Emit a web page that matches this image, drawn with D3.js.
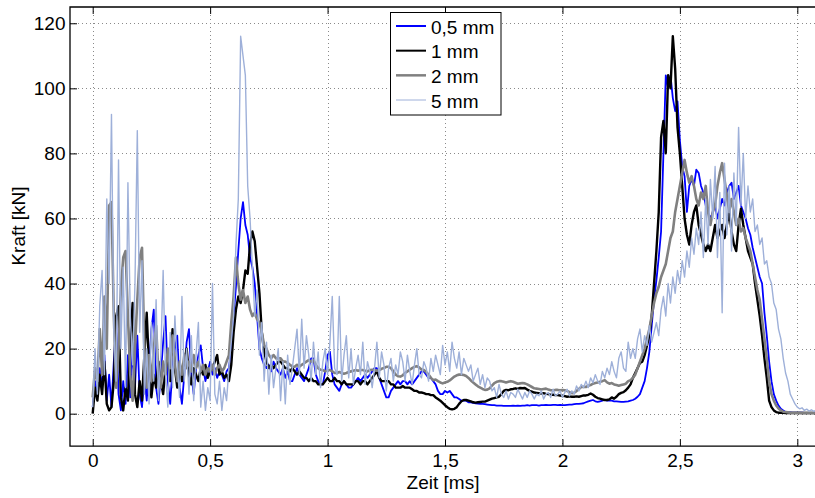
<!DOCTYPE html>
<html><head><meta charset="utf-8">
<script src="https://cdn.jsdelivr.net/npm/d3@7"></script>
<style>body{margin:0;background:#fff}</style>
</head><body>
<svg id="chart" width="815" height="498"></svg>
<script>
const seriesNames = ["0,5 mm", "1 mm", "2 mm", "5 mm"];
const xTicks = [0, 0.5, 1, 1.5, 2, 2.5, 3];
const xTickLabels = ["0", "0,5", "1", "1,5", "2", "2,5", "3"];
const yTicks = [0, 20, 40, 60, 80, 100, 120];
const yTickLabels = ["0", "20", "40", "60", "80", "100", "120"];
const sampleStart = 0;     // ms
const sampleStep = 0.01;   // ms

const blue05 = [
2,10,6,14,8,18,4,12,2,16,
28,6,1,10,3,18,5,20,8,24,
6,2,12,4,14,26,32,8,3,12,
22,30,10,3,14,20,24,8,3,12,
22,26,12,6,14,18,21,14,10,13,
16,12,14,11,13,12,10,13,14,20,
30,39,50,60,65,58,55,48,45,40,
30,20,17,15,14,15,13,16,14,13,
12,14,11,13,10,10,12,14,12,11,
10,12,14,17,17,12,10,9,9,13,
18,19,12,9,8,7,9,10,9,8,
8,9,10,11,10,11,12,11,12,13,
14,14,11,9,7,5,5,7,8,9,
10,9,10,10,9,10,9,10,11,12,
13,13,12,11,11,10,9,7,6,6,
7,6.5,7,6,5,5,4.5,4,4,4,
3.5,3.5,3.3,3.2,3.1,3,3,2.9,2.8,2.7,
2.6,2.6,2.5,2.5,2.5,2.4,2.4,2.4,2.4,2.5,
2.4,2.5,2.4,2.5,2.5,2.6,2.5,2.6,2.6,2.6,
2.5,2.6,2.6,2.7,2.6,2.6,2.7,2.7,2.6,2.7,
2.6,2.6,2.7,2.8,2.8,2.9,3,3,3.1,3.2,
3.5,3.8,4,4.2,3.8,3.6,3.8,4,4.2,4,
4,4,3.8,3.8,3.7,3.6,3.6,3.7,3.8,4,
4.2,4.6,5.2,6,8,10,14,19,27,35,
41,48,56,80,104,100,104,97,93,96,
84,76,73,62,70,72,70,75,74,70,
68,64,62,60,62,64,60,63,66,64,
68,70,71,66,68,70,64,62,60,57,
55,51,48,45,42,40,31,24,16,10,
6,4,2.5,1.5,1,0.5,0.4,0.4,0.3,0.3,
0.3,0.3,0.3,0.2,0.2,0.2,0.2,0.2,0.2,0.2,
0.2];

const black1 = [
0,8,4,12,6,16,3,1,2,10,
30,33,5,1,8,4,22,34,6,2,
10,4,18,31,14,5,12,8,16,10,
6,14,18,10,26,14,8,13,10,16,
20,12,9,14,12,10,14,12,15,11,
13,14,16,18,12,13,11,12,10,15,
25,32,36,34,38,44,43,52,56,53,
45,37,25,19,16,14,15,14,15,16,
16,15,14,14,13,14,13,12,13,12,
11,11,10,11,10,10,9,9,9,10,
11,10,10,11,10,10,9,10,9,9,
9,9,10,10,9,10,10,9,10,11,
12,13,11,10,10,10,10,9,9,8,
8,8,8.5,8,8,8,7.5,7,7,6.5,
6.5,6.3,6,6,5.7,5.7,5,4.5,4,3.3,
2.6,2,1.5,1.3,1.5,2,3,3.8,4.2,4.2,
4,3.8,3.5,3.4,3.5,3.6,3.7,3.7,4,4.3,
4.6,4.8,5,5.2,6,7,7.3,7.2,7.5,7.6,
7.8,7.6,7.9,7.8,7.9,7.4,7,6.8,6.5,6.4,
6.3,6.2,6.3,6.1,6,5.8,5.8,5.7,5.7,5.6,
5.5,5.4,5.2,5.3,5.2,5.2,5.3,5.2,5.4,5.6,
5.6,5.8,6.2,5.8,5.2,4.8,4.6,4.4,4.2,4.2,
4.4,5,4.6,5.2,6,6.4,6.6,7.2,8,9,
11,12.5,14,15.6,16,18,21,24,30,40,
50,62,85,90,80,104,100,116,106,88,
80,70,60,55,52,58,62,64,58,55,
52,50,52,50,54,58,54,56,58,54,
58,62,56,52,50,58,63,58,54,50,
48,46,40,35,30,24,17,11,4,2,
1,0.5,0.3,0.3,0.3,0.2,0.2,0.2,0.2,0.2,
0.2,0.2,0.2,0.2,0.2,0.2,0.2,0.2,0.2,0.2,
0.2];

const gray2 = [
5,14,10,26,12,36,20,64,65,30,
8,20,38,48,50,30,12,4,20,35,
48,51,20,8,18,10,20,27,12,8,
16,12,20,14,24,15,10,16,12,18,
14,16,13,18,14,16,13,15,12,14,
13,15,12,14,15,13,14,16,18,28,
36,48,40,35,38,34,36,32,30,31,
29,28,25,21,20,18,17,18,17,17,
17,16,16,15.6,15,14.5,14.4,15,14.4,15,
15.5,16,16.5,16,16.5,15,14,13.5,13.4,13,
13.4,13.4,13,12.5,12.5,12.8,12.5,12.3,12.5,12.8,
13,13.2,13.4,13.2,13.4,13.4,13.2,13,13.4,13.5,
13.4,13.2,13.4,13.8,14,14.4,14.4,14,13,12,
11.5,11.4,11.8,12.5,13,13.5,14,14.4,14.6,14.2,
13.6,13.4,12.8,12,11,10.3,10.5,10,9.6,9.3,
9.6,9.8,10.2,10.8,11.4,11.8,12,12,11.9,11.6,
11,10.2,9.6,9,8.4,8,7.6,7.3,7.4,7.8,
8.6,9.4,9.8,10,10,9.8,9.6,9.8,10,9.8,
9.5,9.2,9.3,9.4,9.3,9,8.6,8.2,7.8,7.7,
7.6,7.4,7.6,7.7,7.4,7.2,7.2,7.3,7.3,7.2,
7.3,7.2,7,6.6,6.3,6.4,7,7.6,8.2,8.3,
8.2,8.6,8.8,9.2,9.4,9.6,9.8,10,10.3,9.6,
9.2,9.4,9,8.8,8.6,8.8,9,9.2,10,10.3,
11,12,14,16,18,20,23,26,30,34,
37,39,42,44,46,50,54,56,62,66,
70,74,78,74,71,73,70,66,64,68,
66,70,62,58,62,64,70,74,77,72,
67,62,66,62,58,60,56,57,54,52,
50,46,42,38,35,29,23,17,10,6,
4,2.5,1.6,1,0.6,0.5,0.4,0.3,0.3,0.3,
0.3,0.3,0.2,0.2,0.2,0.2,0.2,0.2,0.2,0.2,
0.2];

const light5 = [
2,20,6,33,44,12,66,40,92,25,
10,78,20,45,8,71,30,15,40,87,
25,47,6,20,3,28,10,35,4,18,
44,12,2,25,8,30,15,5,36,10,
20,6,24,4,18,28,2,10,1,8,
4,40,6,3,10,1,8,4,14,22,
30,52,66,116,110,104,70,60,45,30,
38,18,28,10,22,6,18,8,14,20,
4,16,3,18,9,14,20,26,12,29,
14,24,18,10,22,12,19,8,16,20,
12,22,36,14,12,36,10,18,24,11,
20,9,14,18,12,22,9,16,13,8,
14,22,11,19,15,7,14,17,10,15,
12,19,16,10,18,13,9,15,20,12,
11,16,14,10,17,13,18,15,12,21,
15,19,13,22,17,14,19,12,17,15,
13,15,10,12,14,9,12,8,11,10,
7,8,5,9,6,5,7,4.5,6.5,6,
5,7.5,6,4.5,6.5,5,7,6,4.5,6,
5.5,7,4.5,6,6.5,5,7.5,5.5,6,7,
5,6.5,7.5,5.5,7,6,8.5,7,9,8,
10,8,11,9.5,12,10,9,13,11,14,
12,16,13,11,17,19,14,13,22,17,
20,17,23,26,19,24,21,27,22,25,
28,24,32,36,30,40,34,42,37,44,
40,47,42,50,45,54,49,57,52,62,
48,66,52,72,60,76,48,68,31,77,
55,70,50,74,58,88,64,80,60,70,
62,66,56,58,52,54,46,47,42,40,
34,32,26,23,17,12.5,10,6,4.5,3,
2,1.5,1.8,1,1.4,0.8,1.2,0.7,1,0.6,
0.8];

const seriesValues = [blue05, black1, gray2, light5];
const seriesColors = ["#0000ff", "#000000", "#808080", "#9eb0d9"];
const seriesWidths = [1.8, 2.4, 2.6, 1.4];
const legendWidths = [2, 2, 2.5, 1];

const svg = d3.select("#chart");
const font = "'Liberation Sans', Arial, Helvetica, sans-serif";
const x = d3.scaleLinear().domain([-0.0966, 3.1]).range([70, 820.8]);
const y = d3.scaleLinear().domain([-10, 125]).range([446.2, 7]);
const [x0, x1] = x.range();
const [yb, yt] = y.range();

// grid
const grid = svg.append("g").attr("stroke", "#8a8a8a").attr("stroke-width", 1)
  .attr("stroke-dasharray", "1,3").attr("shape-rendering", "crispEdges");
grid.selectAll("line.v").data(xTicks).join("line").attr("class", "v")
  .attr("x1", d => Math.round(x(d)) + 0.5).attr("x2", d => Math.round(x(d)) + 0.5)
  .attr("y1", yt).attr("y2", yb);
grid.selectAll("line.h").data(yTicks).join("line").attr("class", "h")
  .attr("y1", d => Math.round(y(d)) + 0.5).attr("y2", d => Math.round(y(d)) + 0.5)
  .attr("x1", x0).attr("x2", x1);

// lines
svg.append("clipPath").attr("id", "clip").append("rect")
  .attr("x", x0).attr("y", yt).attr("width", x1 - x0).attr("height", yb - yt);
const line = d3.line()
  .x((d, i) => x(sampleStart + i * sampleStep))
  .y(d => y(d));
const lines = svg.append("g").attr("clip-path", "url(#clip)");
seriesValues.forEach((vals, k) => {
  lines.append("path").datum(vals)
    .attr("fill", "none").attr("stroke", seriesColors[k])
    .attr("stroke-width", seriesWidths[k]).attr("stroke-linejoin", "round")
    .attr("d", line);
});

// axes
const axisB = svg.append("g").attr("transform", `translate(0,${yb})`)
  .call(d3.axisBottom(x).tickValues(xTicks).tickSize(-7).tickPadding(7.5)
    .tickFormat((d, i) => xTickLabels[i]));
const axisT = svg.append("g").attr("transform", `translate(0,${yt})`)
  .call(d3.axisTop(x).tickValues(xTicks).tickSize(-7).tickFormat(""));
const axisL = svg.append("g").attr("transform", `translate(${x0},0)`)
  .call(d3.axisLeft(y).tickValues(yTicks).tickSize(-7).tickPadding(4.5)
    .tickFormat((d, i) => yTickLabels[i]));
[axisB, axisT, axisL].forEach(g => {
  g.select(".domain").remove();
  g.selectAll(".tick line").attr("stroke", "#000").attr("stroke-width", 1);
  g.selectAll("text").attr("font-family", font).attr("font-size", 19).attr("fill", "#000");
});

// frame
svg.append("path")
  .attr("d", `M${x1},${yt}H${x0}V${yb}H${x1}`)
  .attr("fill", "none").attr("stroke", "#000").attr("stroke-width", 1.3);

// axis titles
svg.append("text").attr("x", 443).attr("y", 489).attr("text-anchor", "middle")
  .attr("font-family", font).attr("font-size", 19).text("Zeit [ms]");
svg.append("text").attr("transform", "translate(24.5,226) rotate(-90)")
  .attr("text-anchor", "middle").attr("font-family", font).attr("font-size", 19)
  .text("Kraft [kN]");

// legend
const lg = svg.append("g");
lg.append("rect").attr("x", 390.5).attr("y", 12.5).attr("width", 110.5).attr("height", 102.5)
  .attr("fill", "#fff").attr("stroke", "#000").attr("stroke-width", 1);
const legendRowY = d3.scalePoint().domain(seriesNames).range([26, 100]);
seriesNames.forEach((name, k) => {
  const yy = legendRowY(name);
  lg.append("line").attr("x1", 396).attr("x2", 426).attr("y1", yy).attr("y2", yy)
    .attr("stroke", seriesColors[k]).attr("stroke-width", legendWidths[k]);
  lg.append("text").attr("x", 431).attr("y", yy + 7.5)
    .attr("font-family", font).attr("font-size", 19).text(name);
});
</script>
</body></html>
